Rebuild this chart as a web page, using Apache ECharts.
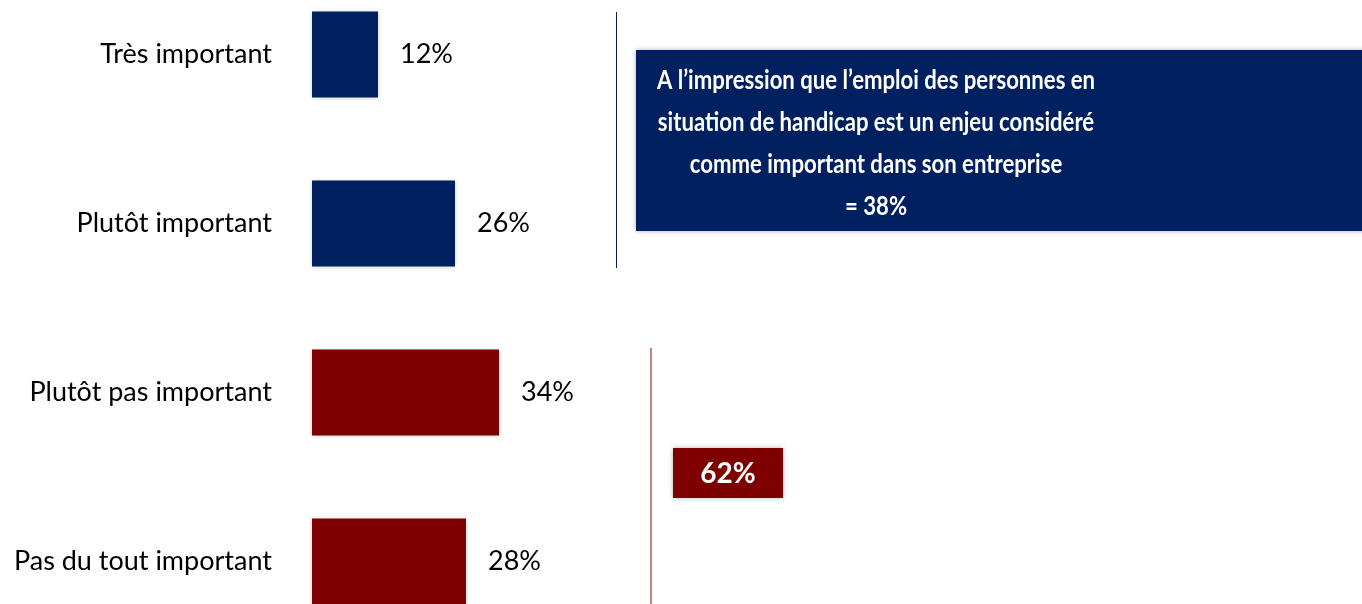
<!DOCTYPE html>
<html>
<head>
<meta charset="utf-8">
<script src="https://cdn.jsdelivr.net/npm/echarts@6/dist/echarts.min.js"></script>
<style>
  html, body { margin: 0; padding: 0; background: #fff; }
  #main { width: 1362px; height: 604px; }
</style>
</head>
<body>
<div id="main"></div>
<script>
var categories = ['Très important', 'Plutôt important', 'Plutôt pas important', 'Pas du tout important'];
var values = [12, 26, 34, 28];
var importantTotal = 38;
var notImportantTotal = 62;

var navy = '#002060';
var darkRed = '#7f0000';
var fontFamily = 'Lato, "Open Sans", sans-serif';

var myChart = echarts.init(document.getElementById('main'));

var option = {
    animation: false,
    grid: {
        left: 312,
        right: 500,
        top: -30,
        bottom: -42,
        outerBoundsMode: 'none',
        containLabel: false
    },
    xAxis: {
        type: 'value',
        min: 0,
        max: 100,
        show: false
    },
    yAxis: {
        type: 'category',
        data: categories,
        inverse: true,
        axisLine: { show: false },
        axisTick: { show: false },
        splitLine: { show: false },
        axisLabel: {
            margin: 40,
            color: '#000',
            fontSize: 27,
            fontFamily: fontFamily
        }
    },
    series: [
        {
            type: 'bar',
            data: values,
            barWidth: 86,
            itemStyle: {
                color: function (p) { return p.dataIndex < 2 ? navy : darkRed; },
                shadowBlur: 4,
                shadowColor: 'rgba(0,0,0,0.2)'
            },
            label: {
                show: true,
                position: 'right',
                distance: 22,
                formatter: '{c}%',
                color: '#000',
                fontSize: 27,
                fontFamily: fontFamily
            }
        }
    ],
    graphic: [
        {
            type: 'line',
            shape: { x1: 616.5, y1: 12, x2: 616.5, y2: 268 },
            style: { stroke: navy, lineWidth: 1 }
        },
        {
            type: 'line',
            shape: { x1: 651, y1: 348, x2: 651, y2: 604 },
            style: { stroke: '#b35a5a', lineWidth: 1.5 }
        },
        {
            type: 'rect',
            shape: { x: 636, y: 50, width: 740, height: 181 },
            style: { fill: navy, shadowBlur: 5, shadowColor: 'rgba(0,0,0,0.3)' }
        },
        {
            type: 'text',
            x: 876,
            y: 143,
            scaleX: 0.82,
            style: {
                text: 'A l’impression que l’emploi des personnes en\nsituation de handicap est un enjeu considéré\ncomme important dans son entreprise\n= ' + importantTotal + '%',
                fill: '#fff',
                font: 'bold 27px ' + fontFamily,
                lineHeight: 42,
                align: 'center',
                verticalAlign: 'middle'
            }
        },
        {
            type: 'rect',
            shape: { x: 673, y: 448, width: 110, height: 50 },
            style: { fill: darkRed, shadowBlur: 5, shadowColor: 'rgba(0,0,0,0.3)' }
        },
        {
            type: 'text',
            x: 728,
            y: 474,
            style: {
                text: notImportantTotal + '%',
                fill: '#fff',
                font: 'bold 28px ' + fontFamily,
                align: 'center',
                verticalAlign: 'middle'
            }
        }
    ]
};

myChart.setOption(option);
</script>
</body>
</html>
